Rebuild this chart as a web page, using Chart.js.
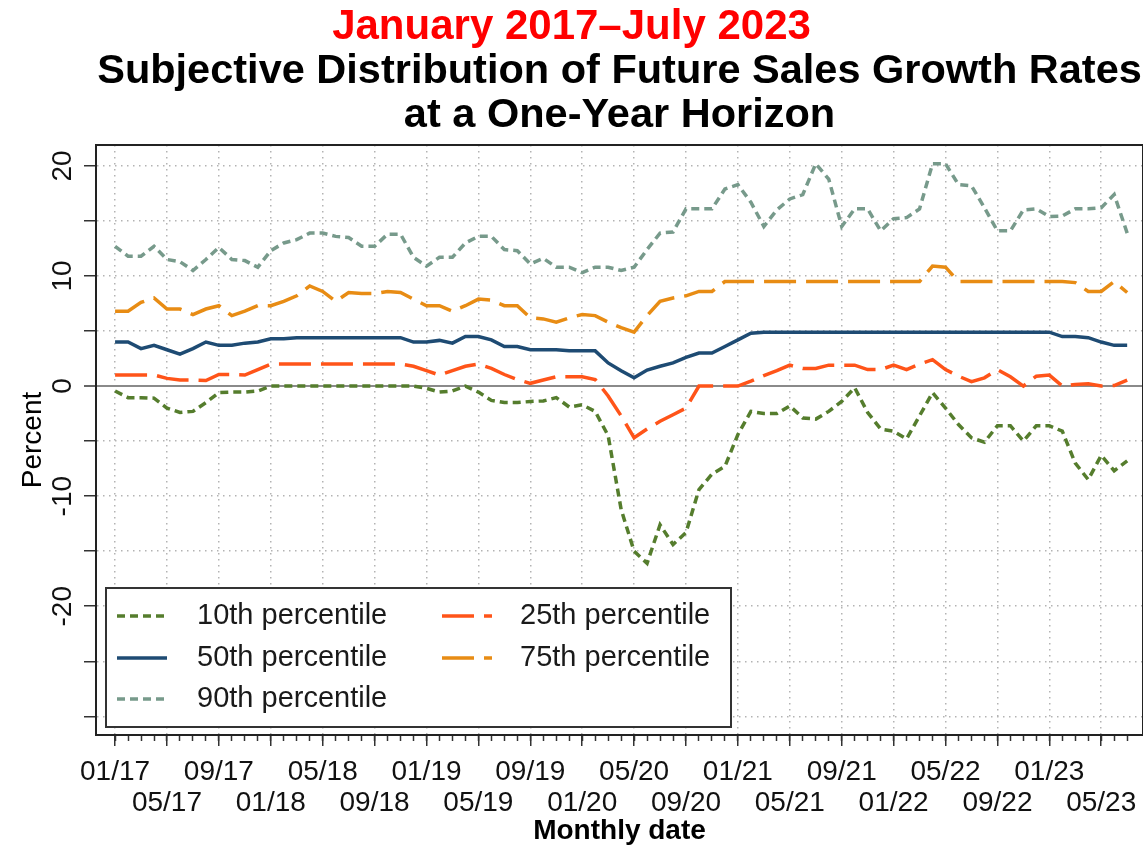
<!DOCTYPE html>
<html>
<head>
<meta charset="utf-8">
<script src="https://cdn.jsdelivr.net/npm/chart.js@4.4.0/dist/chart.umd.min.js"></script>
<style>
  html, body { margin: 0; padding: 0; background: #fff; }
</style>
</head>
<body>
<canvas id="chart" width="1143" height="848"></canvas>
<script>
// Monthly observations, 01/2017 .. 07/2023 (79 months)
const months = [];
for (let yr = 17; yr <= 23; yr++) {
  for (let m = 1; m <= 12; m++) {
    if (yr === 23 && m > 7) break;
    months.push(String(m).padStart(2, '0') + '/' + yr);
  }
}

// labelled x ticks, every 4 months
const tickLabels = ['01/17', '05/17', '09/17', '01/18', '05/18', '09/18', '01/19', '05/19', '09/19', '01/20',
  '05/20', '09/20', '01/21', '05/21', '09/21', '01/22', '05/22', '09/22', '01/23', '05/23'];

const yTicks = [-30, -25, -20, -15, -10, -5, 0, 5, 10, 15, 20];
const yLabels = [-20, -10, 0, 10, 20];

// percentiles of the subjective distribution (percent)
const p10 = [-0.45, -1.05, -1.05, -1.1, -2.0, -2.4, -2.3, -1.5, -0.6, -0.55, -0.55, -0.45,
  0, 0, 0, 0, 0, 0, 0, 0, 0, 0, 0, 0,
  -0.2, -0.55, -0.45, 0, -0.55, -1.3, -1.5, -1.5, -1.4, -1.35, -1.05, -1.9, -1.7, -2.3,
  -4.5, -11.2, -15.0, -16.1, -12.6, -14.4, -13.3, -9.4, -8.0, -7.3, -4.4, -2.3,
  -2.5, -2.5, -1.8, -2.9, -3.0, -2.3, -1.4, -0.15, -2.4, -3.9, -4.1, -4.8, -2.7, -0.6, -2.0,
  -3.5, -4.7, -5.1, -3.6, -3.6, -5.0, -3.6, -3.6, -4.1, -7.0, -8.5, -6.3, -7.7, -6.8];
const p25 = [1.0, 1.0, 1.0, 1.0, 0.7, 0.55, 0.55, 0.5, 1.05, 1.05, 1.0, 1.5,
  2.0, 2.0, 2.0, 2.0, 2.0, 2.0, 2.0, 2.0, 2.0, 2.0, 2.0,
  1.8, 1.4, 1.0, 1.4, 1.8, 2.0, 1.6, 1.05, 0.6, 0.25, 0.55, 0.85, 0.85, 0.85, 0.6,
  -0.9, -2.7, -4.7, -3.9, -3.2, -2.6, -2.0, 0, 0, 0, 0,
  0.45, 0.95, 1.4, 1.9, 1.6, 1.6, 1.9, 1.9, 1.9, 1.5, 1.5, 1.9, 1.5, 2.0, 2.4, 1.5,
  0.9, 0.4, 0.75, 1.5, 0.85, 0, 0.9, 1.0, 0, 0.15, 0.2, 0, 0.05, 0.55];
const p50 = [4.0, 4.0, 3.4, 3.7, 3.3, 2.9, 3.4, 4.0, 3.7, 3.7, 3.9, 4.0,
  4.3, 4.3, 4.4, 4.4, 4.4, 4.4, 4.4, 4.4, 4.4, 4.4, 4.4, 4.0,
  4.0, 4.15, 3.9, 4.5, 4.5, 4.2, 3.6, 3.6, 3.3, 3.3, 3.3, 3.2, 3.2, 3.2,
  2.1, 1.4, 0.75, 1.45, 1.8, 2.1, 2.6, 3.0, 3.0, 3.6, 4.2, 4.8,
  4.9, 4.9, 4.9, 4.9, 4.9, 4.9, 4.9, 4.9, 4.9, 4.9, 4.9, 4.9, 4.9, 4.9, 4.9, 4.9,
  4.9, 4.9, 4.9, 4.9, 4.9, 4.9, 4.9, 4.5, 4.5, 4.4, 4.0, 3.7, 3.7];
const p75 = [6.8, 6.8, 7.6, 8.0, 7.0, 7.0, 6.5, 7.0, 7.3, 6.4, 6.8, 7.3,
  7.3, 7.7, 8.2, 9.1, 8.6, 7.7, 8.5, 8.4, 8.4, 8.6, 8.5, 7.9,
  7.3, 7.3, 6.8, 7.3, 7.9, 7.8, 7.3, 7.3, 6.2, 6.1, 5.8, 6.2, 6.5, 6.4,
  5.8, 5.3, 4.9, 6.4, 7.7, 8.0, 8.2, 8.6, 8.6, 9.5,
  9.5, 9.5, 9.5, 9.5, 9.5, 9.5, 9.5, 9.5, 9.5, 9.5, 9.5, 9.5, 9.5, 9.5, 9.5,
  10.9, 10.8, 9.5, 9.5, 9.5, 9.5, 9.5, 9.5, 9.5, 9.5, 9.5, 9.4, 8.6, 8.6, 9.5, 8.5];
const p90 = [12.7, 11.8, 11.8, 12.7, 11.5, 11.3, 10.5, 11.5, 12.6, 11.5, 11.4, 10.8,
  12.3, 13.0, 13.3, 13.9, 13.9, 13.6, 13.5, 12.7, 12.7, 13.8, 13.8, 11.7,
  10.9, 11.7, 11.7, 13.0, 13.6, 13.6, 12.4, 12.3, 11.1, 11.6, 10.8, 10.8, 10.3, 10.8,
  10.8, 10.5, 10.8, 12.4, 13.9, 14.0, 16.1, 16.1, 16.1, 17.9, 18.3, 16.7,
  14.5, 16.0, 17.0, 17.4, 20.2, 18.8, 14.5, 16.1, 16.1, 14.1, 15.2, 15.3, 16.1, 20.2, 20.2,
  18.3, 18.2, 16.2, 14.1, 14.1, 16.0, 16.1, 15.4, 15.45, 16.1, 16.1, 16.2, 17.4, 13.9];

const seriesNames = ['10th percentile', '25th percentile', '50th percentile', '75th percentile', '90th percentile'];
const seriesValues = [p10, p25, p50, p75, p90];
const seriesColors = ['#557d2d', '#ff5419', '#1e4b73', '#e88c14', '#779a8b'];
const seriesDash = [[8, 5], [32, 10], [], [32, 10], [8, 5]];

// axis ranges
const xMin = -1.47, xMax = 79.22;
const yMin = -31.7, yMax = 21.9;

Chart.defaults.font.family = "'Liberation Sans', Arial, sans-serif";
Chart.defaults.color = '#111';

const toPoints = vals => vals.map((v, i) => ({ x: i, y: v }));

// legend box drawn inside the plot area
const boxLegend = {
  id: 'boxLegend',
  afterDatasetsDraw(chart) {
    const { ctx, chartArea } = chart;
    const left = chartArea.left + 10, top = chartArea.top + 443;
    const right = chartArea.left + 635, bottom = chartArea.bottom - 8;
    ctx.save();
    ctx.fillStyle = '#fff';
    ctx.fillRect(left, top, right - left, bottom - top);
    ctx.strokeStyle = '#333';
    ctx.lineWidth = 2;
    ctx.strokeRect(left, top, right - left, bottom - top);

    const rows = [28, 70, 111];
    const symX = [11, 336], txtX = [91, 414];
    ctx.font = "29px 'Liberation Sans', Arial, sans-serif";
    ctx.textBaseline = 'middle';
    chart.data.datasets.forEach((ds, k) => {
      const col = k % 2, row = Math.floor(k / 2);
      const y = top + rows[row];
      const x0 = left + symX[col];
      ctx.strokeStyle = ds.borderColor;
      ctx.lineWidth = ds.borderWidth;
      ctx.setLineDash(ds.borderDash);
      ctx.beginPath();
      ctx.moveTo(x0, y);
      ctx.lineTo(x0 + 50, y);
      ctx.stroke();
      ctx.setLineDash([]);
      ctx.fillStyle = '#1a1a1a';
      ctx.fillText(ds.label, left + txtX[col], y);
    });
    ctx.restore();
  }
};

// dark frame round the plot region
const plotFrame = {
  id: 'plotFrame',
  afterDraw(chart) {
    const { ctx, chartArea: a } = chart;
    ctx.save();
    ctx.strokeStyle = '#222';
    ctx.lineWidth = 2;
    ctx.strokeRect(a.left, a.top, a.right - a.left, a.bottom - a.top);
    ctx.restore();
  }
};

const dotted = [1.5, 4.5];

new Chart(document.getElementById('chart'), {
  type: 'line',
  data: {
    datasets: seriesNames.map((name, k) => ({
      label: name,
      data: toPoints(seriesValues[k]),
      borderColor: seriesColors[k],
      borderDash: seriesDash[k],
      borderWidth: 3.5,
      pointRadius: 0,
      tension: 0,
      fill: false
    }))
  },
  options: {
    responsive: false,
    animation: false,
    events: [],
    layout: { padding: 0 },
    plugins: {
      legend: { display: false },
      tooltip: { enabled: false },
      title: {
        display: true,
        text: 'January 2017–July 2023',
        color: '#ff0000',
        font: { size: 42, weight: 'bold', lineHeight: 1.0 },
        padding: { top: 6, bottom: 0 }
      },
      subtitle: {
        display: true,
        fullSize: false,
        text: ['Subjective Distribution of Future Sales Growth Rates', 'at a One-Year Horizon'],
        color: '#000',
        font: { size: 41.5, weight: 'bold', lineHeight: 1.07 },
        padding: { top: 1, bottom: 7.2 }
      }
    },
    scales: {
      x: {
        type: 'linear',
        min: xMin,
        max: xMax,
        afterBuildTicks: s => { s.ticks = tickLabels.map((t, k) => ({ value: k * 4 })); },
        afterFit: s => { s.height = 113; s.paddingLeft = 0; s.paddingRight = 0; },
        ticks: {
          autoSkip: false,
          minRotation: 0,
          maxRotation: 0,
          padding: 11,
          color: '#111',
          font: { size: 28, lineHeight: 1.1 },
          callback: v => {
            const k = Math.round(v / 4);
            return k % 2 ? ['', tickLabels[k]] : tickLabels[k];
          }
        },
        grid: { color: '#b3b3b3', lineWidth: 1.5, tickLength: 11, tickColor: '#333', tickWidth: 1.5 },
        border: { display: true, color: '#222', width: 2, dash: dotted },
        title: {
          display: true,
          text: 'Monthly date',
          color: '#000',
          font: { size: 28, weight: 'bold', lineHeight: 1.1 },
          padding: { top: 0, bottom: 1 }
        }
      },
      xMinor: {
        type: 'linear',
        axis: 'x',
        position: { y: yMin },
        min: xMin,
        max: xMax,
        afterBuildTicks: s => { s.ticks = months.map((m, i) => ({ value: i })); },
        ticks: { display: false },
        grid: { drawOnChartArea: false, tickLength: 6, tickColor: '#333', tickWidth: 1.5 },
        border: { display: false }
      },
      y: {
        type: 'linear',
        min: yMin,
        max: yMax,
        afterBuildTicks: s => { s.ticks = yTicks.map(v => ({ value: v })); },
        afterFit: s => { s.width = 96; s.paddingTop = 0; s.paddingBottom = 0; },
        ticks: {
          minRotation: 90,
          maxRotation: 90,
          crossAlign: 'center',
          padding: 0,
          color: '#111',
          font: { size: 28 },
          callback: v => yLabels.includes(v) ? String(v) : ''
        },
        grid: {
          color: c => (c.tick && c.tick.value === 0) ? '#8a8a8a' : '#b3b3b3',
          lineWidth: c => (c.tick && c.tick.value === 0) ? 2 : 1.5,
          tickLength: 12,
          tickColor: '#333',
          tickWidth: 1.5
        },
        border: {
          display: true,
          color: '#222',
          width: 2,
          dash: c => (c.tick && c.tick.value === 0) ? [] : dotted
        },
        title: {
          display: true,
          text: 'Percent',
          color: '#000',
          font: { size: 28 },
          padding: { top: 16, bottom: 0 }
        }
      }
    }
  },
  plugins: [boxLegend, plotFrame]
});
</script>
</body>
</html>
